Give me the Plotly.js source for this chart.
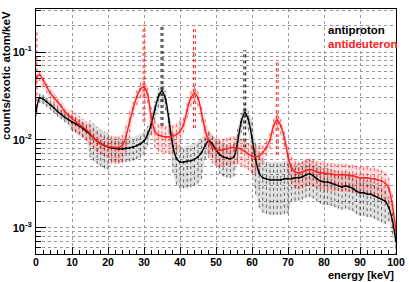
<!DOCTYPE html>
<html><head><meta charset="utf-8">
<script src="https://cdn.plot.ly/plotly-3.0.1.min.js"></script>
<style>html,body{margin:0;padding:0;background:#fff}#c{width:409px;height:282px}</style>
</head><body><div id="c"></div>
<script>
const energy = [0,1,2,3,4,5,6,7,8,9,10,11,12,13,14,15,16,17,18,19,20,21,22,23,24,25,26,27,28,29,30,31,32,33,34,35,36,37,38,39,40,41,42,43,44,45,46,47,48,49,50,51,52,53,54,55,56,57,58,59,60,61,62,63,64,65,66,67,68,69,70,71,72,73,74,75,76,77,78,79,80,81,82,83,84,85,86,87,88,89,90,91,92,93,94,95,96,97,98,99,100];

const antiproton = [0.021,0.030,0.029,0.027,0.025,0.023,0.021,0.0195,0.018,0.017,
0.016,0.0152,0.0145,0.0135,0.0125,0.0115,0.0105,0.0097,0.009,0.0086,
0.0083,0.0081,0.008,0.0079,0.0079,0.008,0.0081,0.0083,0.0086,0.009,
0.0097,0.0115,0.015,0.022,0.031,0.036,0.029,0.016,0.0085,0.0062,
0.0056,0.0056,0.0057,0.0058,0.006,0.0064,0.0072,0.0086,0.0098,0.009,
0.0077,0.0068,0.0064,0.0062,0.0061,0.0064,0.0095,0.016,0.0205,0.017,
0.0105,0.006,0.0042,0.0037,0.0036,0.0035,0.0035,0.0035,0.0035,0.0036,
0.0036,0.0036,0.0037,0.0037,0.0038,0.004,0.0041,0.0039,0.0036,0.0034,
0.0033,0.0033,0.0032,0.0031,0.003,0.0029,0.003,0.0029,0.0028,0.0026,
0.0025,0.0025,0.0024,0.0024,0.0023,0.0022,0.0021,0.002,0.0017,0.0012,0.0007];

const antideuteron = [0.05,0.055,0.048,0.04,0.034,0.03,0.027,0.024,0.021,0.019,
0.0175,0.0162,0.015,0.014,0.013,0.0118,0.0105,0.0097,0.009,0.0086,
0.0084,0.0083,0.0082,0.0082,0.0086,0.011,0.016,0.023,0.031,0.038,
0.040,0.033,0.018,0.0125,0.0113,0.011,0.0108,0.0108,0.011,0.0115,
0.0125,0.015,0.022,0.030,0.034,0.030,0.020,0.013,0.0095,0.0082,
0.0077,0.0076,0.0077,0.0079,0.0081,0.0082,0.0081,0.0078,0.0074,0.0069,
0.0065,0.0064,0.0066,0.0072,0.0082,0.010,0.0145,0.0168,0.0145,0.0105,
0.0065,0.0048,0.0043,0.0042,0.0043,0.0045,0.0046,0.0045,0.0043,0.0042,
0.0042,0.0041,0.0041,0.004,0.004,0.004,0.004,0.0039,0.0039,0.0038,
0.0037,0.0037,0.0037,0.0036,0.0036,0.0035,0.0034,0.0032,0.0028,0.0018,0.0009];

// relative spread of the bin-to-bin scatter
const antiprotonSpread = [0.12,0.12,0.12,0.12,0.12,0.12,0.12,0.12,0.12,0.12,
0.2,0.2,0.2,0.2,0.2,0.45,0.45,0.45,0.45,0.45,
0.45,0.3,0.3,0.3,0.3,0.3,0.3,0.3,0.3,0.3,
0.3,0.25,0.25,0.25,0.25,0.25,0.25,0.25,0.5,0.5,
0.5,0.5,0.5,0.5,0.5,0.5,0.5,0.3,0.3,0.3,
0.3,0.4,0.4,0.4,0.4,0.4,0.4,0.25,0.25,0.25,
0.6,0.6,0.6,0.6,0.6,0.6,0.6,0.6,0.6,0.6,
0.6,0.45,0.45,0.45,0.45,0.45,0.45,0.45,0.45,0.45,
0.45,0.45,0.45,0.45,0.45,0.45,0.45,0.45,0.45,0.45,
0.45,0.45,0.45,0.45,0.45,0.45,0.45,0.45,0.3,0.3,0.3];

const antideuteronSpread = [0.15,0.15,0.15,0.15,0.15,0.15,0.15,0.15,0.15,0.15,
0.25,0.25,0.25,0.25,0.25,0.25,0.25,0.25,0.25,0.25,
0.25,0.35,0.35,0.35,0.35,0.35,0.35,0.2,0.2,0.2,
0.2,0.2,0.35,0.35,0.35,0.35,0.35,0.35,0.35,0.35,
0.35,0.2,0.2,0.2,0.2,0.2,0.2,0.35,0.35,0.35,
0.35,0.35,0.35,0.35,0.35,0.35,0.35,0.35,0.35,0.35,
0.35,0.35,0.35,0.2,0.2,0.2,0.2,0.2,0.2,0.2,
0.35,0.35,0.35,0.35,0.35,0.35,0.35,0.35,0.35,0.35,
0.35,0.35,0.35,0.35,0.35,0.35,0.35,0.35,0.35,0.35,
0.35,0.35,0.35,0.35,0.35,0.35,0.35,0.35,0.35,0.35,0.35];

// large error-bar spikes at the line peaks
const antiprotonSpikeX = [35, 58];
const antiprotonSpikeTop = [0.2, 0.105];
const antideuteronSpikeX = [0, 30, 44, 67];
const antideuteronSpikeTop = [0.18, 0.205, 0.2, 0.076];

const yTickVals = [0.001, 0.01, 0.1];
const yTickText = ['10<sup>-3</sup>', '10<sup>-2</sup>', '10<sup>-1</sup>'];
const yMinorVals = [0.0005,0.0006,0.0007,0.0008,0.0009,0.002,0.003,0.004,0.005,0.006,0.007,0.008,0.009,0.02,0.03,0.04,0.05,0.06,0.07,0.08,0.09,0.2,0.3];
const legendNames = ['antiproton', 'antideuteron'];

const BLACK = '#000000', RED = '#ff2020';

function band(vals, spread, sign) {
  return vals.map((v, i) => v * (1 + sign * spread[i]));
}
function segs(vals, spread) {
  const xs = [], ys = [];
  vals.forEach((v, i) => {
    xs.push(energy[i], energy[i], null);
    ys.push(v * (1 - spread[i]), v * (1 + spread[i]), null);
  });
  return {x: xs, y: ys};
}
function spikes(sx, top, vals) {
  const xs = [], ys = [];
  sx.forEach((x, k) => {
    const idx = energy.indexOf(x);
    const base = vals[idx] * 0.4;
    xs.push(x - 0.25, x - 0.25, null, x + 0.25, x + 0.25, null);
    ys.push(base, top[k], null, base, top[k], null);
  });
  return {x: xs, y: ys};
}

const traces = [];
function addSeries(vals, spread, sx, st, col, segcol, fillcol) {
  traces.push({x: energy, y: band(vals, spread, -1), mode: 'lines', line: {width: 0, color: col}, hoverinfo: 'skip', showlegend: false});
  traces.push({x: energy, y: band(vals, spread, 1), mode: 'lines', line: {width: 0, color: col}, fill: 'tonexty', fillcolor: fillcol, hoverinfo: 'skip', showlegend: false});
  const s = segs(vals, spread);
  traces.push({x: s.x, y: s.y, mode: 'lines', line: {width: 1, color: segcol, dash: 'dot'}, connectgaps: false, showlegend: false, hoverinfo: 'skip'});
  const p = spikes(sx, st, vals);
  traces.push({x: p.x, y: p.y, mode: 'lines', line: {width: 1, color: col, dash: 'dot'}, connectgaps: false, showlegend: false, hoverinfo: 'skip'});
}
addSeries(antiproton, antiprotonSpread, antiprotonSpikeX, antiprotonSpikeTop, BLACK, 'rgba(0,0,0,0.55)', 'rgba(0,0,0,0.12)');
addSeries(antideuteron, antideuteronSpread, antideuteronSpikeX, antideuteronSpikeTop, RED, 'rgba(255,0,0,0.6)', 'rgba(255,0,0,0.12)');
traces.push({x: energy, y: antiproton, name: legendNames[0], mode: 'lines+markers', line: {width: 1.4, color: BLACK, shape: 'spline', smoothing: 0.8}, marker: {size: 2, color: BLACK}, showlegend: false});
traces.push({x: energy, y: antideuteron, name: legendNames[1], mode: 'lines+markers', line: {width: 1.4, color: RED, shape: 'spline', smoothing: 0.8}, marker: {size: 2, color: RED}, showlegend: false});

const F = 'Liberation Sans, Arial, Helvetica, sans-serif';
const layout = {
  width: 409, height: 282,
  margin: {l: 36, r: 13, t: 9, b: 28},
  paper_bgcolor: '#fff', plot_bgcolor: '#fff',
  showlegend: false,
  xaxis: {
    range: [0, 100], tickvals: [0,10,20,30,40,50,60,70,80,90,100],
    ticks: 'inside', ticklen: 7, tickcolor: '#000', tickwidth: 1,
    showgrid: true, gridcolor: '#999', griddash: 'dot', gridwidth: 1,
    minor: {dtick: 2, ticks: 'inside', ticklen: 4, tickcolor: '#000', showgrid: false},
    showline: true, linecolor: '#000', linewidth: 1, mirror: true,
    zeroline: false,
    tickfont: {family: F, size: 10.5, color: '#000', weight: 'bold'},
    ticklabelstandoff: -2
  },
  yaxis: {
    type: 'log', range: [-3.30, -0.51],
    tickmode: 'array', tickvals: yTickVals, ticktext: yTickText,
    ticks: 'inside', ticklen: 10, tickcolor: '#000', tickwidth: 1,
    showgrid: true, gridcolor: '#999', griddash: 'dot', gridwidth: 1,
    minor: {tickmode: 'array', tickvals: yMinorVals, ticks: 'inside', ticklen: 5, tickcolor: '#000', showgrid: true, gridcolor: '#999', griddash: 'dot', gridwidth: 1},
    showline: true, linecolor: '#000', linewidth: 1, mirror: true,
    zeroline: false,
    tickfont: {family: F, size: 11, color: '#000', weight: 'bold'},
    ticklabelstandoff: 1
  },
  annotations: [
    {xref: 'paper', yref: 'paper', x: -0.085, y: 1.0, xanchor: 'center', yanchor: 'top', textangle: -90,
     text: 'counts/exotic atom/keV', showarrow: false, font: {family: F, size: 11.5, color: '#000', weight: 'bold'}},
    {xref: 'paper', yref: 'paper', x: 1.0, y: -0.086, xanchor: 'right', yanchor: 'middle',
     text: 'energy [keV]', showarrow: false, font: {family: F, size: 11, color: '#000', weight: 'bold'}},
    {xref: 'paper', yref: 'paper', x: 0.805, y: 0.915, xanchor: 'left', yanchor: 'middle',
     text: legendNames[0], showarrow: false, font: {family: F, size: 11.5, color: BLACK, weight: 'bold'}},
    {xref: 'paper', yref: 'paper', x: 0.805, y: 0.858, xanchor: 'left', yanchor: 'middle',
     text: legendNames[1], showarrow: false, font: {family: F, size: 11.5, color: RED, weight: 'bold'}}
  ]
};
Plotly.newPlot('c', traces, layout, {displayModeBar: false, staticPlot: true});
</script></body></html>
